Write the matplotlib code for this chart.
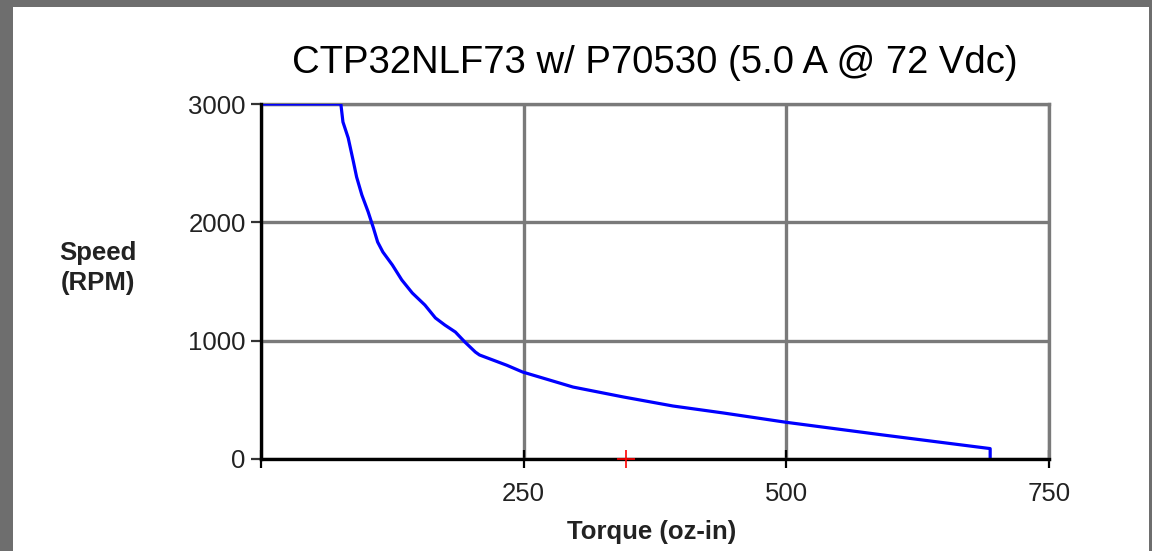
import matplotlib
matplotlib.use("Agg")
from matplotlib import pyplot as plt
from matplotlib.patches import Rectangle

plt.rcParams['font.family'] = ['Liberation Sans', 'DejaVu Sans']

# speed-torque curve
torque = [0, 76, 78, 83, 88, 91, 96, 102, 107, 111, 116, 125, 134, 144, 156,
          166, 175, 185, 194, 204, 208, 234, 249, 297, 345, 392, 440, 500,
          592, 694, 694]
speed = [3000, 3000, 2848, 2713, 2510, 2383, 2231, 2088, 1952, 1834, 1749,
         1640, 1513, 1403, 1301, 1192, 1132, 1073, 989, 904, 879, 792, 735,
         608, 524, 448, 389, 310, 203, 88, 0]

marker_torque = [347]
marker_speed = [0]

xticks = [0, 250, 500, 750]
xlabels = ['', '250', '500', '750']
yticks = [0, 1000, 2000, 3000]

title = 'CTP32NLF73 w/ P70530 (5.0 A @ 72 Vdc)'

W, H = 1152, 551
fig = plt.figure(figsize=(W / 100, H / 100), dpi=100, facecolor='#6e6e6e')
# white panel inside the grey frame
fig.patches.append(Rectangle((13 / W, 0), (1149 - 13) / W, (H - 7) / H,
                             transform=fig.transFigure, facecolor='white',
                             edgecolor='none', zorder=-5))

ax = fig.add_axes([261 / W, 92 / H, 788 / W, 355 / H])
ax.set_zorder(2)
ax.patch.set_alpha(0)
ax.plot(torque, speed, color='#0000ff', lw=2.3, zorder=3)
ax.plot(marker_torque, marker_speed, '+', color='red', ms=13, mew=1.2, zorder=6, clip_on=False)

ax.set_xlim(0, 750)
ax.set_ylim(0, 3000)
ax.set_xticks(xticks)
ax.set_xticklabels(xlabels)
ax.set_yticks(yticks)
ax.grid(True, color='#7a7a7a', lw=2.4)
ax.set_axisbelow(True)

for s in ['top', 'right']:
    ax.spines[s].set_color('#7a7a7a')
    ax.spines[s].set_linewidth(2.4)
for s in ['left', 'bottom']:
    ax.spines[s].set_color('black')
    ax.spines[s].set_linewidth(2.4)
    ax.spines[s].set_zorder(5)

ax.tick_params(axis='x', direction='inout', length=13, width=1.6, color='black',
               pad=10, labelsize=18.5, labelcolor='#222222')
ax.tick_params(axis='y', direction='out', length=7, width=1.6, color='#333333',
               pad=4, labelsize=18.5, labelcolor='#222222')

fig.text(655 / W, 1 - 63 / H, title, ha='center', va='center', fontsize=27.5)
fig.text(98 / W, 1 - 268 / H, 'Speed\n(RPM)', ha='center', va='center',
         fontsize=18.5, fontweight='bold', color='#222222', linespacing=1.3)
fig.text(652 / W, 1 - 532 / H, 'Torque (oz-in)', ha='center', va='center',
         fontsize=18.5, fontweight='bold', color='#222222')

fig.savefig('out.png', dpi=100, facecolor=fig.get_facecolor())
